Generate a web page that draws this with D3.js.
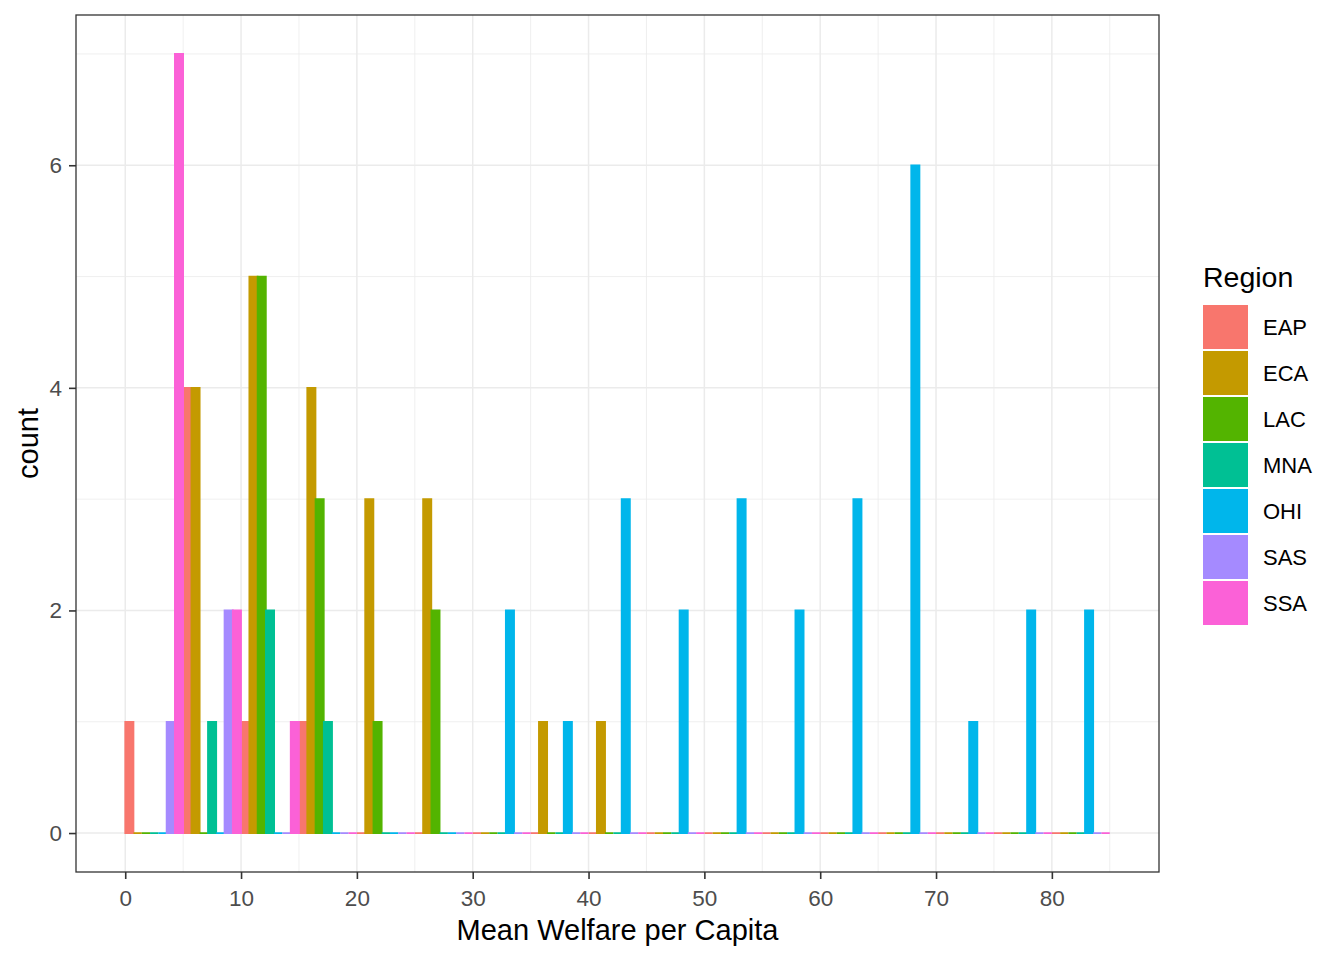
<!DOCTYPE html>
<html>
<head>
<meta charset="utf-8">
<script src="https://cdn.jsdelivr.net/npm/d3@7"></script>
<style>
  body { margin: 0; background: #fff; }
  text { font-family: "Liberation Sans", Arial, sans-serif; }
</style>
</head>
<body>
<div id="chart"></div>
<script>
// histogram bins (width 5) starting at these values
const binStarts = [0, 5, 10, 15, 20, 25, 30, 35, 40, 45, 50, 55, 60, 65, 70, 75, 80];
const binWidth = 5;

const regions = ["EAP", "ECA", "LAC", "MNA", "OHI", "SAS", "SSA"];
const colors  = ["#F8766D", "#C49A00", "#53B400", "#00C094", "#00B6EB", "#A58AFF", "#FB61D7"];

// counts per bin for each region
const eap = [1, 4, 1, 1, 0, 0, 0, 0, 0, 0, 0, 0, 0, 0, 0, 0, 0];
const eca = [0, 4, 5, 4, 3, 3, 0, 1, 1, 0, 0, 0, 0, 0, 0, 0, 0];
const lac = [0, 0, 5, 3, 1, 2, 0, 0, 0, 0, 0, 0, 0, 0, 0, 0, 0];
const mna = [0, 1, 2, 1, 0, 0, 0, 0, 0, 0, 0, 0, 0, 0, 0, 0, 0];
const ohi = [0, 0, 0, 0, 0, 0, 2, 1, 3, 2, 3, 2, 3, 6, 1, 2, 2];
const sas = [1, 2, 0, 0, 0, 0, 0, 0, 0, 0, 0, 0, 0, 0, 0, 0, 0];
const ssa = [7, 2, 1, 0, 0, 0, 0, 0, 0, 0, 0, 0, 0, 0, 0, 0, 0];
const counts = [eap, eca, lac, mna, ohi, sas, ssa];

const xTicks = [0, 10, 20, 30, 40, 50, 60, 70, 80];
const xMinor = [5, 15, 25, 35, 45, 55, 65, 75, 85];
const yTicks = [0, 2, 4, 6];
const yMinor = [1, 3, 5, 7];

const width = 1344, height = 960;
const panel = {left: 76, right: 1159, top: 15, bottom: 872};

const svg = d3.select("#chart")
    .append("svg")
    .attr("width", width)
    .attr("height", height);

const xScale = d3.scaleLinear().domain([-4.25, 89.25]).range([panel.left, panel.right]);
const yScale = d3.scaleLinear().domain([-0.35, 7.35]).range([panel.bottom, panel.top]);

// grid
const grid = svg.append("g");
grid.selectAll(".xminor").data(xMinor).join("line")
    .attr("x1", d => xScale(d)).attr("x2", d => xScale(d))
    .attr("y1", panel.top).attr("y2", panel.bottom)
    .attr("stroke", "#EBEBEB").attr("stroke-width", 0.8);
grid.selectAll(".yminor").data(yMinor).join("line")
    .attr("y1", d => yScale(d)).attr("y2", d => yScale(d))
    .attr("x1", panel.left).attr("x2", panel.right)
    .attr("stroke", "#EBEBEB").attr("stroke-width", 0.8);
grid.selectAll(".xmajor").data(xTicks).join("line")
    .attr("x1", d => xScale(d)).attr("x2", d => xScale(d))
    .attr("y1", panel.top).attr("y2", panel.bottom)
    .attr("stroke", "#EBEBEB").attr("stroke-width", 1.5);
grid.selectAll(".ymajor").data(yTicks).join("line")
    .attr("y1", d => yScale(d)).attr("y2", d => yScale(d))
    .attr("x1", panel.left).attr("x2", panel.right)
    .attr("stroke", "#EBEBEB").attr("stroke-width", 1.5);

// dodged bars, drawn region by region (zero counts show as a line)
const sub = binWidth / regions.length;
regions.forEach((r, g) => {
    const bars = binStarts.map((b, i) => ({x0: b + g * sub, x1: b + (g + 1) * sub, n: counts[g][i]}));
    svg.append("g").selectAll("path").data(bars).join("path")
        .attr("d", d => {
            const x0 = xScale(d.x0), x1 = xScale(d.x1);
            const y0 = yScale(0), y1 = yScale(d.n);
            return `M${x0},${y0}L${x1},${y0}L${x1},${y1}L${x0},${y1}Z`;
        })
        .attr("fill", colors[g])
        .attr("stroke", colors[g])
        .attr("stroke-width", 1.7)
        .attr("stroke-linejoin", "miter");
});

// panel border
svg.append("rect")
    .attr("x", panel.left).attr("y", panel.top)
    .attr("width", panel.right - panel.left).attr("height", panel.bottom - panel.top)
    .attr("fill", "none").attr("stroke", "#333333").attr("stroke-width", 1.3);

// axes
const xAxis = svg.append("g")
    .attr("transform", `translate(0,${panel.bottom})`)
    .call(d3.axisBottom(xScale).tickValues(xTicks).tickSize(7).tickPadding(11));
const yAxis = svg.append("g")
    .attr("transform", `translate(${panel.left},0)`)
    .call(d3.axisLeft(yScale).tickValues(yTicks).tickSize(7).tickPadding(7));
[xAxis, yAxis].forEach(a => {
    a.select(".domain").remove();
    a.selectAll(".tick line").attr("stroke", "#333333").attr("stroke-width", 1.6);
    a.selectAll(".tick text")
        .attr("fill", "#4D4D4D")
        .style("font-size", "22.5px")
        .style("font-family", "'Liberation Sans', Arial, sans-serif");
});

// axis titles
svg.append("text")
    .attr("x", (panel.left + panel.right) / 2)
    .attr("y", 940)
    .attr("text-anchor", "middle")
    .style("font-size", "29px")
    .attr("fill", "#000")
    .text("Mean Welfare per Capita");

svg.append("text")
    .attr("transform", `translate(38,${(panel.top + panel.bottom) / 2}) rotate(-90)`)
    .attr("text-anchor", "middle")
    .style("font-size", "29px")
    .attr("fill", "#000")
    .text("count");

// legend
const legend = svg.append("g").attr("transform", "translate(1203,0)");
legend.append("text")
    .attr("x", 0).attr("y", 287)
    .style("font-size", "28.5px")
    .attr("fill", "#000")
    .text("Region");
const items = legend.selectAll(".item").data(regions).join("g")
    .attr("transform", (d, i) => `translate(0,${305 + i * 46})`);
items.append("rect")
    .attr("width", 45).attr("height", 44)
    .attr("fill", (d, i) => colors[i]);
items.append("text")
    .attr("x", 60).attr("y", 22)
    .attr("dy", "0.36em")
    .style("font-size", "22px")
    .attr("fill", "#000")
    .text(d => d);
</script>
</body>
</html>
